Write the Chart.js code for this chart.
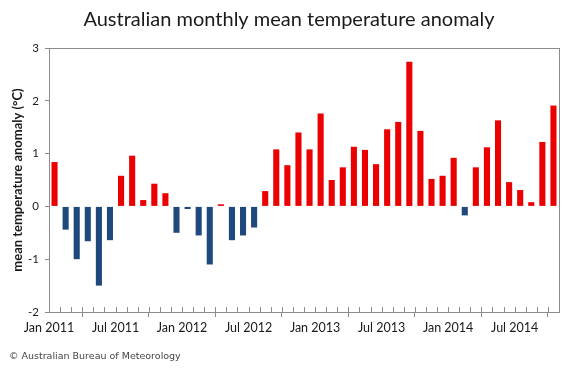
<!DOCTYPE html>
<html><head><meta charset="utf-8">
<script src="https://cdn.jsdelivr.net/npm/chart.js@4.4.1/dist/chart.umd.min.js"></script>
<style>html,body{margin:0;padding:0;background:#fff}</style>
</head><body>
<canvas id="c" width="580" height="368"></canvas>
<script>
const months = [
 'Jan 2011','Feb 2011','Mar 2011','Apr 2011','May 2011','Jun 2011','Jul 2011','Aug 2011','Sep 2011','Oct 2011','Nov 2011','Dec 2011',
 'Jan 2012','Feb 2012','Mar 2012','Apr 2012','May 2012','Jun 2012','Jul 2012','Aug 2012','Sep 2012','Oct 2012','Nov 2012','Dec 2012',
 'Jan 2013','Feb 2013','Mar 2013','Apr 2013','May 2013','Jun 2013','Jul 2013','Aug 2013','Sep 2013','Oct 2013','Nov 2013','Dec 2013',
 'Jan 2014','Feb 2014','Mar 2014','Apr 2014','May 2014','Jun 2014','Jul 2014','Aug 2014','Sep 2014','Oct 2014'];
const anomalies = [
 0.84,-0.44,-1.00,-0.66,-1.50,-0.64,0.58,0.96,0.12,0.43,0.25,-0.50,
 -0.05,-0.55,-1.10,0.04,-0.64,-0.55,-0.40,0.29,1.08,0.78,1.40,1.08,
 1.76,0.50,0.74,1.13,1.07,0.80,1.46,1.60,2.74,1.43,0.52,0.58,
 0.92,-0.17,0.74,1.12,1.63,0.46,0.31,0.08,1.22,1.91];
const tickLabels = ['Jan 2011','Jul 2011','Jan 2012','Jul 2012','Jan 2013','Jul 2013','Jan 2014','Jul 2014'];
const titleText = 'Australian monthly mean temperature anomaly';
const yTitle = 'mean temperature anomaly (\u00B0C)';
const footerText = '\u00A9 Australian Bureau of Meteorology';

const RED = '#ea0000', BLUE = '#1f497d', AXIS = '#8c8c8c';

const points = anomalies.map((v, i) => ({x: i + 0.5, y: v}));

const framePlugin = {
  id: 'frame',
  afterDraw(chart) {
    const {ctx, chartArea: a, scales: {x}} = chart;
    ctx.save();
    ctx.strokeStyle = AXIS;
    ctx.lineWidth = 1;
    ctx.beginPath();
    ctx.moveTo(a.left, a.top + 0.5); ctx.lineTo(a.right, a.top + 0.5);
    ctx.moveTo(a.right + 0.5, a.top); ctx.lineTo(a.right + 0.5, a.bottom);
    for (let i = 1; i < months.length; i++) {
      const px = Math.round(x.getPixelForValue(i)) + 0.5;
      ctx.moveTo(px, a.bottom - 5); ctx.lineTo(px, a.bottom);
    }
    ctx.stroke();
    ctx.fillStyle = '#444';
    ctx.font = '9.5px "DejaVu Sans"';
    ctx.textBaseline = 'middle';
    ctx.textAlign = 'left';
    ctx.fillText(footerText, 9, 357);
    ctx.restore();
  }
};

new Chart(document.getElementById('c'), {
  type: 'bar',
  data: {
    datasets: [{
      data: points,
      backgroundColor: ctx => (ctx.raw && ctx.raw.y < 0) ? BLUE : RED,
      borderWidth: 0,
      barPercentage: 0.55,
      categoryPercentage: 1.0
    }]
  },
  options: {
    responsive: false,
    animation: false,
    layout: {padding: {left: 19, right: 21, top: 0, bottom: 26}},
    plugins: {
      legend: {display: false},
      tooltip: {enabled: false},
      title: {
        display: true, text: titleText, color: '#1a1a1a',
        font: {family: 'Lato', size: 20, weight: 'normal'},
        padding: {top: 8, bottom: 16}
      }
    },
    scales: {
      x: {
        type: 'linear', min: 0, max: months.length, offset: false,
        afterFit: s => { s.height = 30; },
        border: {display: true, color: AXIS},
        grid: {display: true, drawOnChartArea: false, drawTicks: true, tickLength: 5, color: AXIS},
        ticks: {
          stepSize: 6, includeBounds: false, autoSkip: false, maxRotation: 0, padding: 3,
          color: '#1a1a1a', font: {family: 'Lato', size: 12.5},
          callback: v => (v % 6 === 0 && tickLabels[v / 6]) ? tickLabels[v / 6] : ''
        }
      },
      y: {
        min: -2, max: 3,
        afterFit: s => { s.width = 30; },
        border: {display: true, color: AXIS},
        grid: {display: true, drawOnChartArea: false, drawTicks: true, tickLength: 4, color: AXIS},
        ticks: {stepSize: 1, padding: 6, color: '#1a1a1a', font: {family: 'Lato', size: 11.5}},
        title: {
          display: true, text: yTitle, color: '#1a1a1a',
          font: {family: 'Lato', size: 13, weight: 'bold'},
          padding: {top: -9, bottom: 0}
        }
      }
    }
  },
  plugins: [framePlugin]
});
</script>
</body></html>
